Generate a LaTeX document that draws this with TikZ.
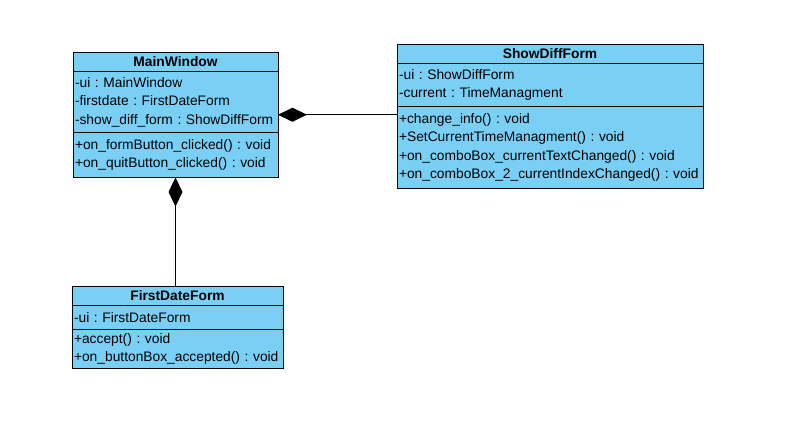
\documentclass[tikz,border=0pt]{standalone}
\usepackage{fontspec}
\setmainfont{Liberation Sans}
\frenchspacing
\usetikzlibrary{arrows.meta,positioning,fit}
\definecolor{classblue}{RGB}{122,207,245}
\tikzset{
    classhead/.style={draw,fill=classblue,outer sep=0pt,inner xsep=2pt,inner ysep=0pt,text width=#1,align=center,minimum height=19.5pt,font={\fontsize{13.8}{18.5}\selectfont\bfseries}},
    classpart/.style={draw,fill=classblue,outer sep=0pt,inner xsep=2pt,inner ysep=0pt,text width=#1,align=left,font={\fontsize{13.8}{18.5}\selectfont}},
    classbox/.style={inner sep=0pt,outer sep=0pt},
    owns/.style={-{Diamond[length=29pt,width=14pt]}}
}

\begin{document}
\begin{tikzpicture}[line width=0.8pt]

    \fill[white] (0,0) rectangle (786pt,-430pt);
    \useasboundingbox (0,0) rectangle (786pt,-430pt);

    % MainWindow
    \node[classhead=201pt,anchor=north west] (main head) at (73pt,-52pt) {MainWindow};
    \node[classpart=201pt,minimum height=61pt,below=0pt of main head] (main attrs)
        {-ui : MainWindow\\-firstdate : FirstDateForm\\-show\_diff\_form : ShowDiffForm};
    \node[classpart=201pt,minimum height=45pt,below=0pt of main attrs] (main ops)
        {+on\_formButton\_clicked() : void\\+on\_quitButton\_clicked() : void};
    \node[classbox,fit=(main head)(main ops)] (main) {};

    % ShowDiffForm
    \node[classhead=302pt,anchor=north west] (show head) at (397pt,-44pt) {ShowDiffForm};
    \node[classpart=302pt,minimum height=43pt,below=0pt of show head] (show attrs)
        {-ui : ShowDiffForm\\-current : TimeManagment};
    \node[classpart=302pt,minimum height=82pt,below=0pt of show attrs] (show ops)
        {+change\_info() : void\\+SetCurrentTimeManagment() : void\\+on\_comboBox\_currentTextChanged() : void\\+on\_comboBox\_2\_currentIndexChanged() : void};

    % FirstDateForm
    \node[classhead=207pt,anchor=north west] (first head) at (72pt,-286pt) {FirstDateForm};
    \node[classpart=207pt,minimum height=24pt,below=0pt of first head] (first attrs)
        {-ui : FirstDateForm};
    \node[classpart=207pt,minimum height=39pt,below=0pt of first attrs] (first ops)
        {+accept() : void\\+on\_buttonBox\_accepted() : void};

    \draw[owns] (show ops.west |- main.east) -- (main.east);
    \draw[owns] (first head.north -| main.south) -- (main.south);

\end{tikzpicture}
\end{document}
